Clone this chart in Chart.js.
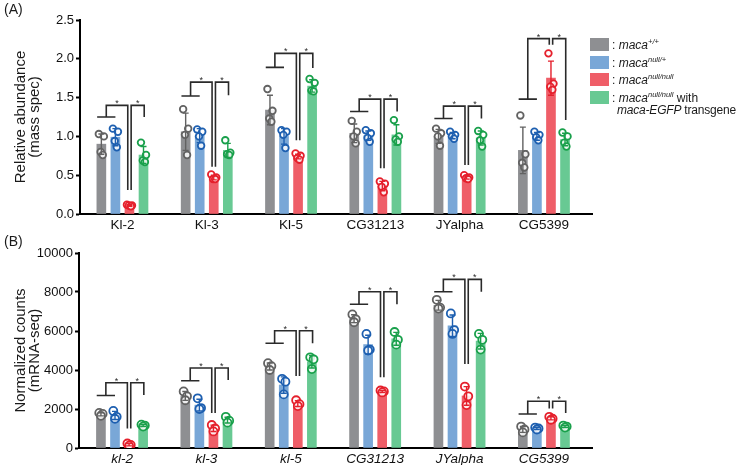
<!DOCTYPE html>
<html>
<head>
<meta charset="utf-8">
<script src="https://cdn.jsdelivr.net/npm/chart.js@4.4.1/dist/chart.umd.min.js"></script>
<style>
  body { margin: 0; width: 740px; height: 465px; position: relative; background: #fff; overflow: hidden;
         font-family: 'Liberation Sans', Arial, sans-serif; color: #1a1a1a; }
  canvas { position: absolute; left: 0; }
  .panel { position: absolute; left: 4px; font-size: 14px; }
  .leg { position: absolute; left: 590px; height: 13px; display: flex; align-items: center; font-size: 12px; white-space: nowrap; }
  .sw { width: 19px; height: 13px; margin-right: 3px; flex: none; }
  .leg i, .line2 i { font-style: italic; }
  .leg sup { font-size: 7.5px; font-style: italic; vertical-align: 5px; line-height: 0; }
  .line2 { position: absolute; left: 617px; top: 103px; font-size: 12px; letter-spacing: -0.2px; white-space: nowrap; }
</style>
</head>
<body>
<canvas id="chartA" width="740" height="232" style="top:0"></canvas>
<canvas id="chartB" width="740" height="233" style="top:232px"></canvas>
<div class="panel" style="top:1px">(A)</div>
<div class="panel" style="top:233px">(B)</div>

<div class="leg" style="top:38px"><span class="sw" style="background:#8e8f92"></span><span>: <i>maca</i><sup>+/+</sup></span></div>
<div class="leg" style="top:56px"><span class="sw" style="background:#79a7d7"></span><span>: <i>maca</i><sup>null/+</sup></span></div>
<div class="leg" style="top:73px"><span class="sw" style="background:#ef5e68"></span><span>: <i>maca</i><sup>null/null</sup></span></div>
<div class="leg" style="top:91px"><span class="sw" style="background:#68c993"></span><span>: <i>maca</i><sup>null/null</sup> with</span></div>
<div class="line2"><i>maca-EGFP</i> transgene</div>

<script>
// categories and ticks
var groupsA = ['Kl-2', 'Kl-3', 'Kl-5', 'CG31213', 'JYalpha', 'CG5399'];
var groupsB = ['kl-2', 'kl-3', 'kl-5', 'CG31213', 'JYalpha', 'CG5399'];
var yTicksA = [0, 0.5, 1.0, 1.5, 2.0, 2.5];
var yTicksB = [0, 2000, 4000, 6000, 8000, 10000];

// (A) mass spec - bar means, SD and replicates per genotype
var aWT = [0.90, 1.06, 1.34, 1.04, 1.00, 0.82];
var aHet = [0.99, 1.01, 1.00, 1.01, 1.01, 1.00];
var aNull = [0.11, 0.47, 0.74, 0.36, 0.47, 1.75];
var aRescue = [0.76, 0.82, 1.65, 1.02, 0.98, 0.96];
var aWTsd = [0.13, 0.24, 0.19, 0.12, 0.09, 0.30];
var aHetSd = [0.11, 0.09, 0.10, 0.06, 0.04, 0.05];
var aNullSd = [0.01, 0.03, 0.03, 0.06, 0.02, 0.22];
var aRescueSd = [0.11, 0.09, 0.08, 0.13, 0.09, 0.08];
var aWTpts = [[1.03, 1.00, 0.80, 0.76], [1.35, 1.10, 1.02, 0.76], [1.61, 1.33, 1.23, 1.19],
              [1.20, 1.06, 1.00, 0.91], [1.10, 1.04, 1.00, 0.88], [1.27, 0.77, 0.66, 0.60]];
var aHetPts = [[1.10, 1.06, 0.94, 0.86], [1.09, 1.06, 1.00, 0.88], [1.08, 1.06, 1.02, 0.85],
               [1.08, 1.04, 0.98, 0.93], [1.06, 1.02, 1.00, 0.97], [1.06, 1.02, 0.99, 0.95]];
var aNullPts = [[0.12, 0.11, 0.11, 0.10], [0.51, 0.47, 0.45, 0.45], [0.78, 0.75, 0.72, 0.70],
                [0.42, 0.39, 0.35, 0.28], [0.50, 0.47, 0.46, 0.45], [2.07, 1.68, 1.64, 1.60]];
var aRescuePts = [[0.92, 0.76, 0.69, 0.67], [0.95, 0.79, 0.77, 0.76], [1.74, 1.69, 1.59, 1.58],
                  [1.21, 1.00, 0.96, 0.93], [1.07, 1.02, 0.95, 0.87], [1.05, 1.00, 0.92, 0.87]];
// significance brackets (data units)
var aBrPair = [1.25, 1.52, 1.89, 1.32, 1.23, 1.48];
var aBrTop = [1.40, 1.70, 2.07, 1.48, 1.39, 2.26];
var aBrNull = [0.31, 0.61, 0.95, 0.59, 0.63, 2.18];
var aBrRescue = [1.25, 1.53, 1.88, 1.32, 1.23, 1.21];

// (B) mRNA-seq
var bWT = [1730, 2670, 4180, 6630, 7320, 950];
var bHet = [1670, 2200, 3230, 5300, 6270, 1000];
var bNull = [170, 1010, 2280, 2900, 2670, 1520];
var bRescue = [1150, 1430, 4420, 5600, 5480, 1100];
var bWTsd = [80, 230, 180, 200, 250, 150];
var bHetSd = [210, 300, 420, 480, 550, 50];
var bNullSd = [60, 165, 150, 50, 475, 80];
var bRescueSd = [50, 150, 320, 330, 400, 50];
var bWTpts = [[1800, 1750, 1650], [2900, 2650, 2450], [4350, 4200, 4000],
              [6850, 6600, 6450], [7600, 7200, 7150], [1100, 950, 800]];
var bHetPts = [[1900, 1600, 1500], [2550, 2050, 2000], [3550, 3400, 2750],
               [5850, 5050, 5000], [6900, 6050, 5850], [1050, 1000, 950]];
var bNullPts = [[230, 160, 120], [1180, 1000, 850], [2450, 2250, 2150],
                [2950, 2900, 2850], [3150, 2650, 2200], [1600, 1500, 1450]];
var bRescuePts = [[1200, 1150, 1100], [1600, 1400, 1300], [4650, 4550, 4050],
                  [5950, 5550, 5300], [5850, 5550, 5050], [1150, 1100, 1050]];
var bBrPair = [2690, 3450, 5370, 7370, 8015, 1745];
var bBrTop = [3350, 4100, 6015, 8015, 8650, 2400];
var bBrNull = [1000, 1790, 3690, 3625, 4310, 2020];
var bBrRescue = [2720, 3490, 5370, 7370, 8015, 1795];

var barColors = ['#8e8f92', '#79a7d7', '#ef5e68', '#68c993'];
var dotColors = ['#626262', '#1d5fb0', '#e5202c', '#19a04b'];
var FONT = "'Liberation Sans', Arial, sans-serif";

Chart.defaults.font.family = FONT;
Chart.defaults.color = '#1a1a1a';
Chart.defaults.animation = false;

// bar slot of genotype k inside group g (x axis is in slot units)
function slot(g, k) { return g * 6 + k - 1.5; }

function buildDatasets(means, points, jitter, radius) {
    var sets = [];
    means.forEach(function(m, k) {
        sets.push({
            type: 'bar',
            data: m.map(function(v, g) { return {x: slot(g, k), y: v}; }),
            backgroundColor: barColors[k],
            barThickness: 9,
            grouped: false,
            order: 3
        });
        var pts = [];
        points[k].forEach(function(grp, g) {
            grp.forEach(function(v, j) { pts.push({x: slot(g, k) + jitter[j], y: v}); });
        });
        sets.push({
            type: 'scatter',
            data: pts,
            pointRadius: radius,
            pointHoverRadius: radius,
            borderWidth: 1.8,
            borderColor: dotColors[k],
            backgroundColor: 'rgba(255,255,255,0.85)',
            order: 1
        });
    });
    return sets;
}

// error bars + significance brackets
function overlayPlugin(means, sds, br) {
    return {
        id: 'overlay',
        afterDatasetsDraw: function(chart) {
            var ctx = chart.ctx, xs = chart.scales.x, ys = chart.scales.y;
            ctx.save();
            means.forEach(function(m, k) {
                ctx.strokeStyle = dotColors[k];
                ctx.lineWidth = 1.4;
                m.forEach(function(v, g) {
                    var x = xs.getPixelForValue(slot(g, k));
                    var y1 = ys.getPixelForValue(v + sds[k][g]);
                    var y2 = ys.getPixelForValue(Math.max(0, v - sds[k][g]));
                    ctx.beginPath();
                    ctx.moveTo(x, y1); ctx.lineTo(x, y2);
                    ctx.moveTo(x - 3, y1); ctx.lineTo(x + 3, y1);
                    ctx.moveTo(x - 3, y2); ctx.lineTo(x + 3, y2);
                    ctx.stroke();
                });
            });
            ctx.strokeStyle = '#2a2a2a';
            ctx.fillStyle = '#2a2a2a';
            ctx.lineWidth = 1.6;
            ctx.font = '9px ' + FONT;
            ctx.textAlign = 'center';
            ctx.textBaseline = 'alphabetic';
            br.pair.forEach(function(_, g) {
                var px = function(s) { return xs.getPixelForValue(g * 6 + s); };
                var py = function(v) { return ys.getPixelForValue(v); };
                var yPair = py(br.pair[g]), yTop = py(br.top[g]);
                ctx.beginPath();
                ctx.moveTo(px(-1.8), yPair); ctx.lineTo(px(-0.5), yPair);
                ctx.moveTo(px(-1.15), yPair); ctx.lineTo(px(-1.15), yTop); ctx.lineTo(px(0.38), yTop);
                ctx.lineTo(px(0.38), py(br.nul[g]));
                ctx.moveTo(px(0.62), py(br.nul[g])); ctx.lineTo(px(0.62), yTop);
                ctx.lineTo(px(1.55), yTop); ctx.lineTo(px(1.55), py(br.rescue[g]));
                ctx.stroke();
                ctx.fillText('*', (px(-1.15) + px(0.38)) / 2, yTop + 1);
                ctx.fillText('*', (px(0.62) + px(1.55)) / 2, yTop + 1);
            });
            ctx.restore();
        }
    };
}

function makeChart(id, opts) {
    var H = opts.height;
    return new Chart(document.getElementById(id), {
        type: 'bar',
        data: {datasets: buildDatasets(opts.means, opts.points, opts.jitter, opts.radius)},
        options: {
            responsive: false,
            devicePixelRatio: 1,
            layout: {padding: {left: 0, right: 740 - 592, top: opts.top, bottom: 0}},
            plugins: {legend: {display: false}, tooltip: {enabled: false}},
            scales: {
                x: {
                    type: 'linear',
                    min: opts.xMin,
                    max: 33.42,
                    offset: false,
                    bounds: 'data',
                    grid: {display: false, drawTicks: false, tickLength: 0},
                    border: {display: true, color: '#000', width: 2},
                    ticks: {
                        autoSkip: false, maxRotation: 0, padding: 3, color: '#111',
                        font: {size: 13.5, style: opts.italic ? 'italic' : 'normal'},
                        callback: function(v) { return opts.groups[Math.round(v / 6)]; }
                    },
                    afterBuildTicks: function(s) {
                        s.ticks = opts.groups.map(function(_, g) { return {value: g * 6}; });
                    },
                    afterFit: function(s) { s.height = H - opts.bottom; }
                },
                y: {
                    min: opts.yTicks[0],
                    max: opts.yTicks[opts.yTicks.length - 1],
                    grid: {drawOnChartArea: false, tickLength: 4, tickWidth: 2, tickColor: '#000'},
                    border: {display: true, color: '#000', width: 2},
                    ticks: {padding: 2, color: '#111', font: {size: 13}, callback: opts.yFormat},
                    afterBuildTicks: function(s) {
                        s.ticks = opts.yTicks.map(function(v) { return {value: v}; });
                    },
                    title: {
                        display: true,
                        text: opts.title,
                        color: '#1a1a1a',
                        font: {size: 15, lineHeight: 0.9},
                        padding: {top: 14.5, bottom: 0}
                    },
                    afterFit: function(s) { s.width = opts.left; }
                }
            }
        },
        plugins: [overlayPlugin(opts.means, opts.sds, opts.br)]
    });
}

makeChart('chartA', {
    height: 232, top: 20, bottom: 214, left: 80, xMin: -3.02,
    groups: groupsA, yTicks: yTicksA, italic: false,
    yFormat: function(v) { return v.toFixed(1); },
    title: ['Relative abundance', '(mass spec)'],
    means: [aWT, aHet, aNull, aRescue],
    sds: [aWTsd, aHetSd, aNullSd, aRescueSd],
    points: [aWTpts, aHetPts, aNullPts, aRescuePts],
    jitter: [-0.18, 0.18, -0.05, 0.1], radius: 3.3,
    br: {pair: aBrPair, top: aBrTop, nul: aBrNull, rescue: aBrRescue}
});

makeChart('chartB', {
    height: 233, top: 21, bottom: 216, left: 79, xMin: -3.06,
    groups: groupsB, yTicks: yTicksB, italic: true,
    yFormat: function(v) { return String(v); },
    title: ['Normalized counts', '(mRNA-seq)'],
    means: [bWT, bHet, bNull, bRescue],
    sds: [bWTsd, bHetSd, bNullSd, bRescueSd],
    points: [bWTpts, bHetPts, bNullPts, bRescuePts],
    jitter: [-0.12, 0.12, 0], radius: 4,
    br: {pair: bBrPair, top: bBrTop, nul: bBrNull, rescue: bBrRescue}
});
</script>
</body>
</html>
